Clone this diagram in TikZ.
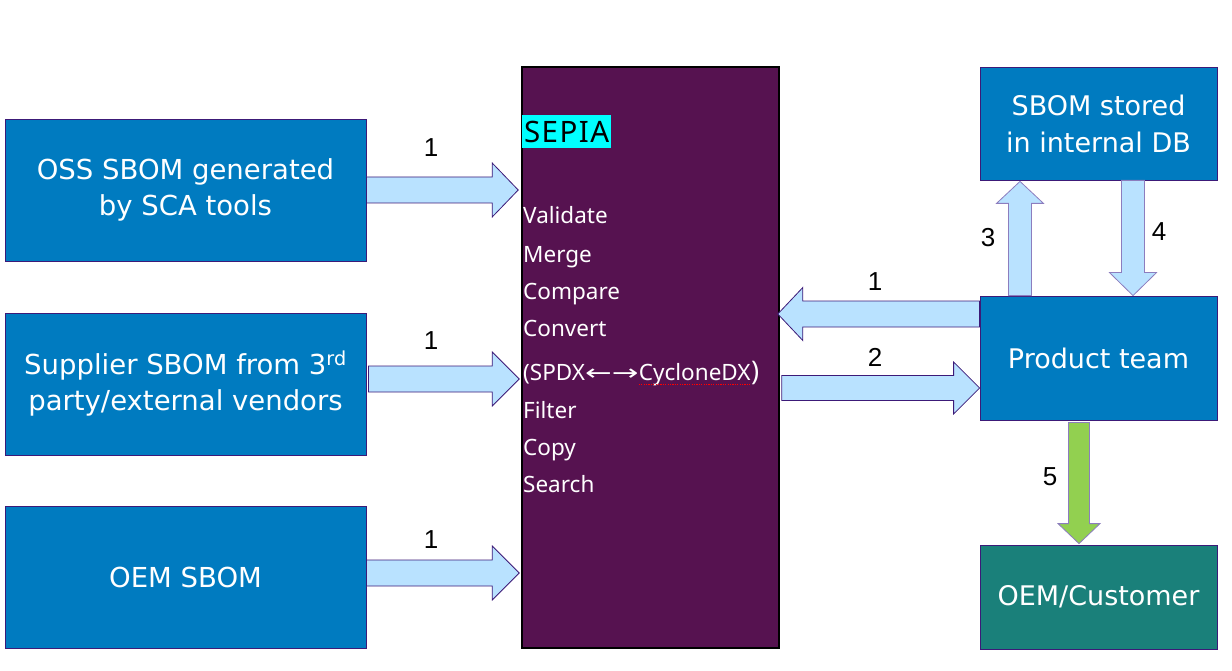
\documentclass[tikz,border=0pt]{standalone}
\usepackage{fontspec}
\usepackage{graphicx}
\setmainfont{Noto Sans}
\newfontfamily\boxfont{DejaVu Sans}
\newfontfamily\numfont{Liberation Sans}
\newfontfamily\arrfont{DejaVu Sans}
\usetikzlibrary{calc}
\definecolor{boxblue}{RGB}{0,123,192}
\definecolor{sepiapurple}{RGB}{86,18,80}
\definecolor{oemteal}{RGB}{26,128,122}
\definecolor{arrowblue}{RGB}{185,226,255}
\definecolor{arrowgreen}{RGB}{146,208,80}
\definecolor{edgepurple}{RGB}{60,26,120}
\definecolor{softpurple}{RGB}{140,125,190}
\definecolor{labelcyan}{RGB}{0,255,255}
\newcommand\fatarrow[6][]{%
  \path ($(#3)!#6pt!(#2)$) coordinate (hb);
  \draw[fatstyle,#1] ($(#2)!#4pt!90:(#3)$) -- ($(hb)!#4pt!90:(#3)$) -- ($(hb)!#5pt!90:(#3)$)
    -- (#3) -- ($(hb)!#5pt!-90:(#3)$) -- ($(hb)!#4pt!-90:(#3)$) -- ($(#2)!#4pt!-90:(#3)$) -- cycle;}
\begin{document}
\begin{tikzpicture}[x=1pt,y=-1pt,
  box/.style={draw=edgepurple, line width=0.8pt, fill=boxblue, text=white, align=center,
    minimum width=361pt, minimum height=142pt, inner sep=0pt,
    font=\boxfont\fontsize{27.5}{36}\selectfont},
  rbox/.style={box, minimum width=237pt, font=\boxfont\fontsize{27}{37}\selectfont},
  item/.style={anchor=base west, inner sep=0pt, text=white, font=\fontsize{22.5}{28}\selectfont},
  num/.style={font=\numfont\fontsize{26}{30}\selectfont, text=black, inner sep=0pt},
  fatstyle/.style={draw=edgepurple, line width=0.8pt, fill=arrowblue, line join=miter}]
\useasboundingbox (0,0) rectangle (1232,671);
% left boxes
\node[box] (b1) at (185.5,190) {OSS SBOM generated\\by SCA tools};
\node[box] (b2) at (185.5,384) {Supplier SBOM from 3\textsuperscript{rd}\\party/external vendors};
\node[box] (b3) at (185.5,577) {OEM SBOM};
% SEPIA
\node[draw=black, line width=1.6pt, fill=sepiapurple, minimum width=257pt, minimum height=581pt, inner sep=0pt] (sepia) at (650.5,357.5) {};
\node[fill=labelcyan, text=black, anchor=west, inner sep=0pt, minimum width=89pt, minimum height=33pt,
  font=\fontsize{29.5}{30}\selectfont\addfontfeature{LetterSpace=5}] (sepialbl) at (522,131.5) {SEPIA};
\node[item] (i1) at (523,224) {Validate};
\node[item] (i2) at (523,262) {Merge};
\node[item] (i3) at (523,299) {Compare};
\node[item] (i4) at (523,336) {Convert};
\node[item] (i5) at (523,380) {(SPDX{\arrfont\fontsize{22}{28}\selectfont\scalebox{1.45}[1]{←}\scalebox{1.45}[1]{→}}};
\node[item] (i5b) at (i5.base east) {CycloneDX};
\node[item, font=\fontsize{27}{28}\selectfont] (i5c) at (i5b.base east) {)};
\draw[red, line width=0.9pt, dash pattern=on 1.2pt off 1.2pt] ($(i5b.base west)+(0,4)$) -- ($(i5b.base east)+(0,4)$);
\node[item] (i6) at (523,418) {Filter};
\node[item] (i7) at (523,455) {Copy};
\node[item] (i8) at (523,492) {Search};
% right boxes
\node[rbox, minimum height=113pt] (sbom) at (1098.5,123.5) {SBOM stored\\in internal DB};
\node[rbox, minimum height=124pt] (pt) at (1098.5,358) {Product team};
\node[rbox, minimum height=104pt, fill=oemteal] (oem) at (1098.5,597) {OEM/Customer};
% arrow end points
\coordinate (a1s) at (b1.east);
\coordinate (a1e) at ($(sepia.west|-b1.east)+(-3,0)$);
\coordinate (a2s) at ($(b2.east)+(2,-5)$);
\coordinate (a2e) at ($(sepia.west|-b2.east)+(-2,-5)$);
\coordinate (a3s) at ($(b3.east)+(0,-4)$);
\coordinate (a3e) at ($(sepia.west|-b3.east)+(-2,-4)$);
\coordinate (r1s) at ($(pt.west)+(0,-44)$);
\coordinate (r1e) at ($(sepia.east|-r1s)+(-2,0)$);
\coordinate (r2e) at ($(pt.west)+(0,30)$);
\coordinate (r2s) at ($(sepia.east|-r2e)+(2,0)$);
\coordinate (u3s) at ($(pt.north)+(-78.5,0)$);
\coordinate (u3e) at ($(sbom.south)+(-78.5,1)$);
\coordinate (d4s) at ($(sbom.south)+(34.5,0)$);
\coordinate (d4e) at ($(pt.north)+(34.5,0)$);
\coordinate (g5s) at ($(pt.south)+(-19.5,2)$);
\coordinate (g5e) at ($(oem.north)+(-19.5,-1)$);
% arrows
\fatarrow{a1s}{a1e}{13}{27}{26}
\fatarrow{a2s}{a2e}{13}{27}{27}
\fatarrow{a3s}{a3e}{13}{27}{27}
\fatarrow{r1s}{r1e}{13}{26.5}{25}
\fatarrow{r2s}{r2e}{12.5}{26}{26}
\fatarrow[draw=softpurple]{u3s}{u3e}{11.5}{23.5}{22}
\fatarrow[draw=softpurple]{d4s}{d4e}{11.5}{23.5}{23}
\fatarrow[draw=softpurple, fill=arrowgreen]{g5s}{g5e}{10.5}{21}{20}
% numbers
\node[num] (n1) at (431,148) {1};
\node[num] (n2) at (431,341) {1};
\node[num] (n3) at (431,540) {1};
\node[num] (n4) at (875,282) {1};
\node[num] (n5) at (875,357) {2};
\node[num] (n6) at (988,238) {3};
\node[num] (n7) at (1159,232) {4};
\node[num] (n8) at (1050,477) {5};
\end{tikzpicture}
\end{document}
